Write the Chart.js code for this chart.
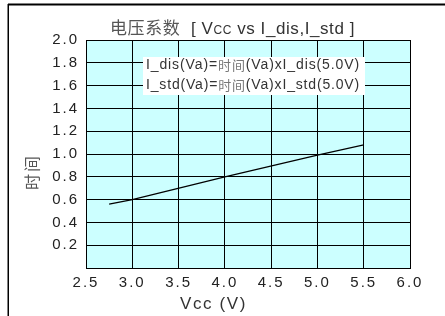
<!DOCTYPE html>
<html lang="zh">
<head>
  <meta charset="UTF-8">
  <title>电压系数</title>
  <script src="https://cdn.jsdelivr.net/npm/chart.js"></script>
  <style>
    html, body { margin: 0; padding: 0; background: #fff; overflow: hidden; }
  </style>
</head>
<body>
<canvas id="vccChart" width="445" height="316"></canvas>

<script>
// data
const vccValues = [2.75, 3.0, 4.0, 5.0, 5.5];
const timeRatio = [0.56, 0.60, 0.80, 0.99, 1.08];
const xTicks = [2.5, 3.0, 3.5, 4.0, 4.5, 5.0, 5.5, 6.0];
const yTicks = [0.2, 0.4, 0.6, 0.8, 1.0, 1.2, 1.4, 1.6, 1.8, 2.0];
const legendLines = [
  ["I_dis(Va)=", "时间", "(Va)xI_dis(5.0V)"],
  ["I_std(Va)=", "时间", "(Va)xI_std(5.0V)"]
];

const LATIN = "'Liberation Sans', Arial, sans-serif";
const CJK = "'Noto Sans CJK SC', sans-serif";

// draw a row of [text, font, colour] pieces stretched to a given width
function drawRow(ctx, parts, x0, width, y) {
  ctx.letterSpacing = "0px";
  let w = 0, n = 0;
  parts.forEach(p => { ctx.font = p[1]; w += ctx.measureText(p[0]).width; n += [...p[0]].length; });
  const sp = Math.max(0, (width - w) / n);
  ctx.letterSpacing = sp + "px";
  let x = x0;
  parts.forEach(p => {
    ctx.font = p[1]; ctx.fillStyle = p[2];
    ctx.fillText(p[0], x, y);
    x += ctx.measureText(p[0]).width;
  });
  ctx.letterSpacing = "0px";
}

// background, frame lines, titles and the formula box
const decorPlugin = {
  id: "decor",
  beforeDraw(chart) {
    const { ctx, chartArea: a } = chart;
    ctx.fillStyle = "#ccffff";
    ctx.fillRect(a.left, a.top, a.right - a.left, a.bottom - a.top);
    ctx.letterSpacing = "2px";
  },
  afterDraw(chart) {
    const ctx = chart.ctx;
    ctx.save();
    ctx.letterSpacing = "0px";
    // outer frame
    ctx.strokeStyle = "#000";
    ctx.lineWidth = 2;
    ctx.beginPath();
    ctx.moveTo(8, 4.5); ctx.lineTo(445, 4.5);
    ctx.stroke();
    ctx.lineWidth = 1.5;
    ctx.beginPath();
    ctx.moveTo(8.25, 4); ctx.lineTo(8.25, 316);
    ctx.stroke();

    ctx.textAlign = "left";
    // title (baseline aligned so the small CC sits on the line)
    ctx.textBaseline = "alphabetic";
    drawRow(ctx, [
      ["电压系数", "17px " + CJK, "#555"],
      ["  [ V", "17px " + LATIN, "#333"],
      ["CC", "12px " + LATIN, "#333"],
      [" vs I_dis,I_std ]", "17px " + LATIN, "#333"]
    ], 110, 245, 34);

    ctx.textBaseline = "middle";
    // y title
    ctx.save();
    ctx.translate(32, 172);
    ctx.rotate(-Math.PI / 2);
    drawRow(ctx, [["时间", "16px " + CJK, "#555"]], -18, 36, 0);
    ctx.restore();

    // x title
    drawRow(ctx, [["Vcc (V)", "17px " + LATIN, "#333"]], 180, 67, 304);

    // formula box
    ctx.fillStyle = "#fff";
    ctx.fillRect(143, 57, 222, 38);
    legendLines.forEach((line, i) => {
      drawRow(ctx, [
        [line[0], "14px " + LATIN, "#333"],
        [line[1], "13px " + CJK, "#777"],
        [line[2], "14px " + LATIN, "#333"]
      ], 146, 214, 65.5 + i * 20);
    });
    ctx.restore();
  }
};

new Chart(document.getElementById("vccChart"), {
  type: "scatter",
  data: {
    datasets: [{
      data: vccValues.map((v, i) => ({ x: v, y: timeRatio[i] })),
      showLine: true,
      borderColor: "#000",
      borderWidth: 1.2,
      pointRadius: 0,
      tension: 0
    }]
  },
  options: {
    responsive: false,
    animation: false,
    layout: { padding: { left: 0, top: 40, right: 35, bottom: 0 } },
    plugins: { legend: { display: false }, tooltip: { enabled: false } },
    scales: {
      x: {
        type: "linear",
        min: 2.5, max: 6.0,
        afterFit: s => { s.height = 48; },
        afterBuildTicks: s => { s.ticks = xTicks.map(v => ({ value: v })); },
        grid: { color: "#000", lineWidth: 1, drawTicks: false },
        border: { color: "#000", width: 1 },
        ticks: {
          autoSkip: false,
          maxRotation: 0,
          padding: 6,
          color: "#222",
          font: { family: LATIN, size: 15 },
          callback: v => v.toFixed(1)
        }
      },
      y: {
        min: 0, max: 2.0,
        afterFit: s => { s.width = 86; },
        afterBuildTicks: s => { s.ticks = [0].concat(yTicks).map(v => ({ value: v })); },
        grid: { color: "#000", lineWidth: 1, drawTicks: false },
        border: { color: "#000", width: 1 },
        ticks: {
          autoSkip: false,
          padding: 7,
          color: "#222",
          font: { family: LATIN, size: 15 },
          callback: v => v === 0 ? "" : v.toFixed(1)
        }
      }
    }
  },
  plugins: [decorPlugin]
});
</script>
</body>
</html>
